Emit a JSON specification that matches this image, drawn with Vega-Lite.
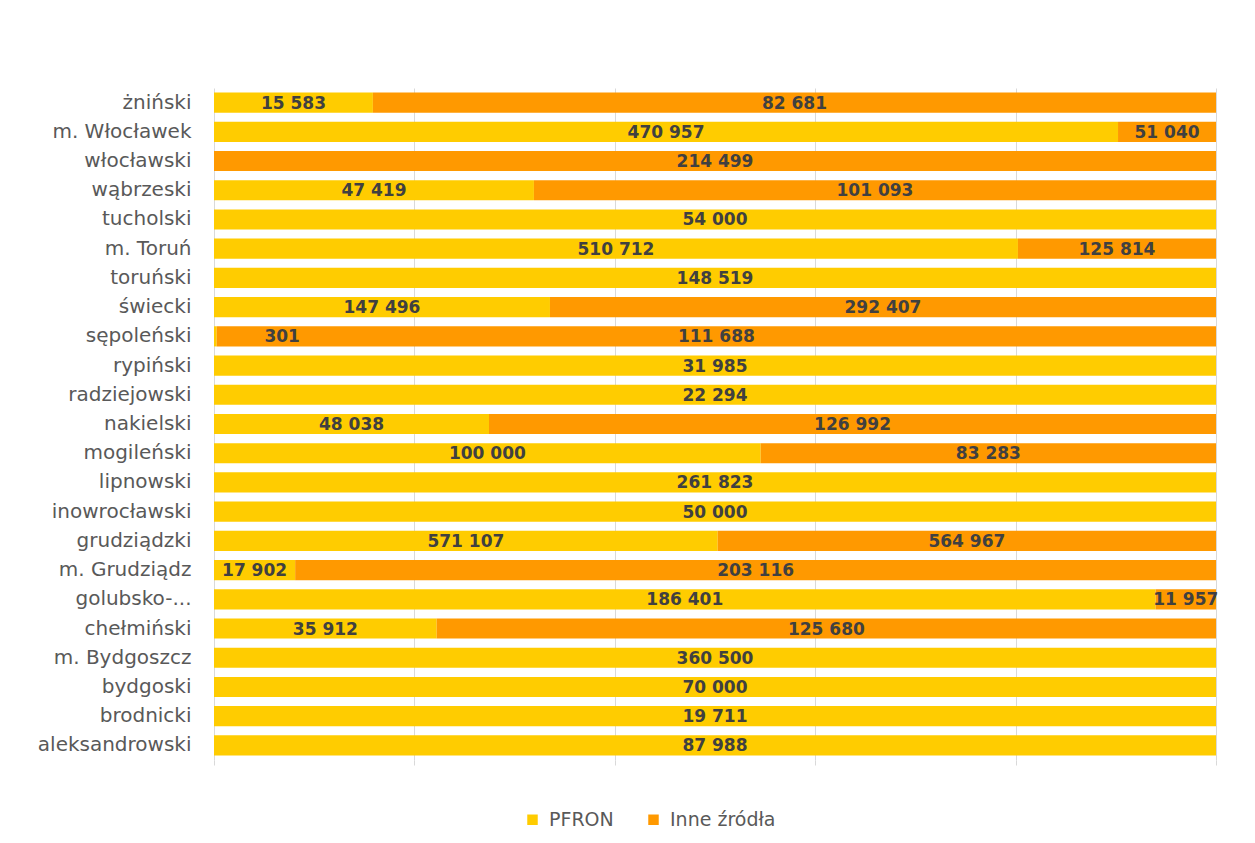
{
  "$schema": "https://vega.github.io/schema/vega-lite/v6.json",
  "autosize": "none",
  "width": 1002,
  "height": 672,
  "padding": {"left": 214, "top": 88, "right": 39, "bottom": 83},
  "background": "white",
  "config": {
    "view": {"stroke": null},
    "font": "DejaVu Sans"
  },
  "data": {
    "values": [
      {"powiat": "żniński", "zrodlo": "PFRON", "wartosc": 15583},
      {"powiat": "żniński", "zrodlo": "Inne źródła", "wartosc": 82681},
      {"powiat": "m. Włocławek", "zrodlo": "PFRON", "wartosc": 470957},
      {"powiat": "m. Włocławek", "zrodlo": "Inne źródła", "wartosc": 51040},
      {"powiat": "włocławski\u00a0", "zrodlo": "Inne źródła", "wartosc": 214499},
      {"powiat": "wąbrzeski", "zrodlo": "PFRON", "wartosc": 47419},
      {"powiat": "wąbrzeski", "zrodlo": "Inne źródła", "wartosc": 101093},
      {"powiat": "tucholski", "zrodlo": "PFRON", "wartosc": 54000},
      {"powiat": "m. Toruń\u00a0", "zrodlo": "PFRON", "wartosc": 510712},
      {"powiat": "m. Toruń\u00a0", "zrodlo": "Inne źródła", "wartosc": 125814},
      {"powiat": "toruński\u00a0", "zrodlo": "PFRON", "wartosc": 148519},
      {"powiat": "świecki", "zrodlo": "PFRON", "wartosc": 147496},
      {"powiat": "świecki", "zrodlo": "Inne źródła", "wartosc": 292407},
      {"powiat": "sępoleński", "zrodlo": "PFRON", "wartosc": 301},
      {"powiat": "sępoleński", "zrodlo": "Inne źródła", "wartosc": 111688},
      {"powiat": "rypiński", "zrodlo": "PFRON", "wartosc": 31985},
      {"powiat": "radziejowski", "zrodlo": "PFRON", "wartosc": 22294},
      {"powiat": "nakielski", "zrodlo": "PFRON", "wartosc": 48038},
      {"powiat": "nakielski", "zrodlo": "Inne źródła", "wartosc": 126992},
      {"powiat": "mogileński", "zrodlo": "PFRON", "wartosc": 100000},
      {"powiat": "mogileński", "zrodlo": "Inne źródła", "wartosc": 83283},
      {"powiat": "lipnowski", "zrodlo": "PFRON", "wartosc": 261823},
      {"powiat": "inowrocławski", "zrodlo": "PFRON", "wartosc": 50000},
      {"powiat": "grudziądzki\u00a0", "zrodlo": "PFRON", "wartosc": 571107},
      {"powiat": "grudziądzki\u00a0", "zrodlo": "Inne źródła", "wartosc": 564967},
      {"powiat": "m. Grudziądz", "zrodlo": "PFRON", "wartosc": 17902},
      {"powiat": "m. Grudziądz", "zrodlo": "Inne źródła", "wartosc": 203116},
      {"powiat": "golubsko-...", "zrodlo": "PFRON", "wartosc": 186401},
      {"powiat": "golubsko-...", "zrodlo": "Inne źródła", "wartosc": 11957},
      {"powiat": "chełmiński", "zrodlo": "PFRON", "wartosc": 35912},
      {"powiat": "chełmiński", "zrodlo": "Inne źródła", "wartosc": 125680},
      {"powiat": "m. Bydgoszcz\u00a0", "zrodlo": "PFRON", "wartosc": 360500},
      {"powiat": "bydgoski\u00a0", "zrodlo": "PFRON", "wartosc": 70000},
      {"powiat": "brodnicki", "zrodlo": "PFRON", "wartosc": 19711},
      {"powiat": "aleksandrowski", "zrodlo": "PFRON", "wartosc": 87988}
    ]
  },
  "transform": [
    {"stack": "wartosc", "groupby": ["powiat"], "offset": "normalize", "sort": [{"field": "zrodlo", "order": "descending"}], "as": ["v0", "v1"]},
    {"calculate": "(datum.v1 - datum.v0) < 0.01 ? datum.v0 + 0.068 : (datum.v0 + datum.v1) / 2", "as": "mid"},
    {"calculate": "replace(format(datum.wartosc, ','), ',', ' ')", "as": "etykieta"}
  ],
  "encoding": {
    "y": {
      "field": "powiat",
      "type": "nominal",
      "sort": null,
      "scale": {"paddingInner": 0.31, "paddingOuter": 0.155},
      "axis": {
        "title": null,
        "domain": false,
        "ticks": false,
        "grid": false,
        "labelPadding": 23,
        "labelFont": "DejaVu Sans",
        "labelFontSize": 20,
        "labelColor": "#595959",
        "labelLimit": 300
      }
    }
  },
  "layer": [
    {
      "mark": {"type": "bar"},
      "encoding": {
        "x": {
          "field": "v0",
          "type": "quantitative",
          "scale": {"domain": [0, 1], "nice": false},
          "axis": {
            "title": null,
            "labels": false,
            "values": [0, 0.2, 0.4, 0.6, 0.8, 1],
            "grid": true,
            "gridColor": "#d9d9d9",
            "gridWidth": 1,
            "domain": false,
            "ticks": true,
            "tickColor": "#d9d9d9",
            "tickSize": 5
          }
        },
        "x2": {"field": "v1"},
        "color": {
          "field": "zrodlo",
          "type": "nominal",
          "scale": {"domain": ["PFRON", "Inne źródła"], "range": ["#ffcc00", "#ff9900"]},
          "legend": {
            "title": null,
            "orient": "none",
            "direction": "horizontal",
            "legendX": 309,
            "legendY": 722,
            "symbolType": "square",
            "symbolSize": 110,
            "symbolStrokeWidth": 0,
            "labelFont": "DejaVu Sans",
            "labelFontSize": 19,
            "labelColor": "#595959",
            "labelOffset": 7,
            "columnPadding": 30
          }
        }
      }
    },
    {
      "mark": {"type": "text", "font": "DejaVu Sans", "fontWeight": "bold", "fontSize": 17, "color": "#404040", "baseline": "middle", "align": "center", "dy": 1},
      "encoding": {
        "x": {"field": "mid", "type": "quantitative"},
        "text": {"field": "etykieta", "type": "nominal"}
      }
    }
  ]
}
